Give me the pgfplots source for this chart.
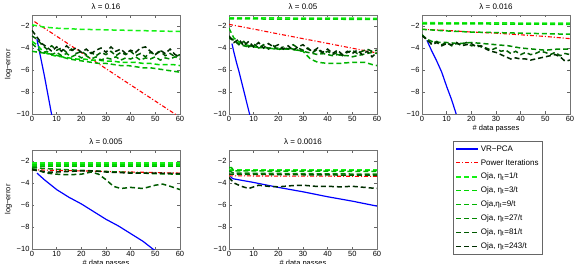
\documentclass[border=0pt]{standalone}
\usepackage{pgfplots}
\pgfplotsset{compat=1.18}
\usepackage{fontspec}
\setmainfont{Liberation Sans}
\definecolor{vr}{RGB}{0,0,255}
\definecolor{pw}{RGB}{255,0,0}
\definecolor{oa}{RGB}{20,240,20}
\definecolor{ob}{RGB}{0,215,0}
\definecolor{oc}{RGB}{0,180,0}
\definecolor{od}{RGB}{0,135,0}
\definecolor{oe}{RGB}{0,90,0}
\definecolor{of}{RGB}{0,45,0}
\pgfplotsset{
  panel/.style={
    scale only axis, width=148pt, height=99pt,
    anchor=south west,
    xmin=0, xmax=60, ymin=-10, ymax=-1,
    xtick={0,10,20,30,40,50,60},
    xticklabels={0,10,20,30,40,50,60},
    ytick={-10,-8,-6,-4,-2},
    yticklabels={−10,−8,−6,−4,−2},
    tick align=inside,
    major tick length=2.5pt,
    tick style={black!60, line width=0.4pt},
    axis line style={black!55, line width=0.5pt},
    ticklabel style={font=\fontsize{7.5}{8}\selectfont},
    xticklabel style={yshift=1pt},
    yticklabel style={xshift=1pt},
    label style={font=\fontsize{7.5}{8}\selectfont},
    ylabel style={yshift=-2pt},
    title style={font=\fontsize{8}{9}\selectfont, yshift=-4pt},
    clip=true,
  },
  vrs/.style={color=vr, line width=1.2pt, solid},
  pws/.style={color=pw, line width=1.1pt, dash pattern=on 4pt off 2pt on 1pt off 2pt},
  oj/.style={color=#1, line width=1.5pt, dash pattern=on 5pt off 3pt},
}
\begin{document}
\begin{tikzpicture}
\useasboundingbox (0,0) rectangle (579pt,263pt);
\clip (0,0) rectangle (579pt,263pt);

% Panel 1
\begin{axis}[panel, at={(32pt,149pt)}, title={λ = 0.16}, ylabel={log−error}]
\addplot[vrs] coordinates {(2,-3.2)(3,-4.3)(4,-5.4)(5,-6.5)(6,-7.7)(7,-8.9)(8,-10.1)(9,-11.3)};
\addplot[pws] coordinates {(1,-1.6)(10,-2.93)(20,-4.41)(30,-5.88)(40,-7.36)(50,-8.83)(60,-10.3)};
\addplot[oj=oa] coordinates {(0,-1.9)(5,-2.1)(10,-2.2)(20,-2.3)(30,-2.35)(40,-2.4)(50,-2.45)(60,-2.5)};
\addplot[oj=ob] coordinates {(0,-3.4)(2,-3.7)(4,-4.2)(6,-4.5)(9,-4.7)(12,-4.8)(15,-4.9)(18,-5.0)(21,-5.0)(24,-5.1)(27,-5.1)(30,-5.2)(33,-5.2)(36,-5.3)(39,-5.3)(42,-5.3)(45,-5.4)(48,-5.4)(51,-5.5)(54,-5.5)(57,-5.5)(60,-5.6)};
\addplot[oj=oc] coordinates {(0,-4.3)(3,-4.4)(6,-4.5)(9,-4.6)(12,-4.8)(15,-5.0)(18,-5.1)(21,-5.2)(24,-5.3)(27,-5.4)(30,-5.4)(33,-5.5)(36,-5.6)(39,-5.6)(42,-5.7)(45,-5.8)(48,-5.8)(51,-5.9)(54,-6.0)(57,-6.1)(60,-6.2)};
\addplot[oj=od] coordinates {(0,-3.6)(2,-4.0)(4,-4.5)(6,-4.3)(8,-4.6)(10,-4.4)(12,-4.7)(14,-4.5)(16,-4.8)(18,-4.6)(20,-4.9)(22,-4.7)(24,-5.0)(26,-4.8)(28,-5.1)(30,-4.9)(32,-5.0)(34,-4.8)(36,-5.1)(38,-4.9)(40,-5.0)(42,-4.8)(44,-5.1)(46,-4.9)(48,-5.0)(50,-4.8)(52,-5.1)(54,-4.9)(56,-5.0)(58,-4.8)(60,-5.0)};
\addplot[oj=oe] coordinates {(0,-2.9)(2,-3.2)(4,-3.7)(6,-4.1)(8,-3.8)(10,-4.2)(12,-4.0)(14,-4.4)(16,-4.1)(18,-4.5)(20,-4.3)(22,-4.6)(24,-4.4)(26,-4.7)(28,-4.4)(30,-4.6)(32,-4.3)(34,-4.7)(36,-4.4)(38,-4.6)(40,-4.3)(42,-4.7)(44,-4.5)(46,-4.8)(48,-4.4)(50,-4.6)(52,-4.3)(54,-4.7)(56,-4.5)(58,-4.8)(60,-4.6)};
\addplot[oj=of] coordinates {(0,-2.4)(2,-3.0)(4,-3.6)(6,-3.9)(8,-4.3)(10,-3.9)(12,-4.3)(14,-3.8)(16,-4.2)(18,-4.0)(20,-4.4)(22,-4.1)(24,-4.5)(26,-4.2)(28,-4.0)(30,-4.4)(32,-3.9)(34,-4.3)(36,-4.1)(38,-4.5)(40,-4.2)(42,-4.4)(44,-4.0)(46,-3.9)(48,-4.3)(50,-4.6)(52,-4.2)(54,-4.5)(56,-4.1)(58,-4.6)(60,-4.8)};
\end{axis}

% Panel 2
\begin{axis}[panel, at={(229pt,149pt)}, title={λ = 0.05}]
\addplot[vrs] coordinates {(1.2,-3.6)(2,-4.4)(3,-5.3)(4,-6.1)(5,-7.0)(6,-7.9)(7,-8.8)(8,-9.7)(9,-10.6)};
\addplot[pws] coordinates {(0,-1.85)(10,-2.28)(20,-2.72)(30,-3.15)(40,-3.58)(50,-4.02)(60,-4.45)};
\addplot[oj=oa] coordinates {(0,-1.25)(20,-1.27)(40,-1.28)(60,-1.3)};
\addplot[oj=ob] coordinates {(0,-1.35)(20,-1.37)(40,-1.38)(60,-1.4)};
\addplot[oj=oc] coordinates {(0,-2.2)(2,-3.1)(5,-3.6)(10,-3.9)(15,-4.0)(20,-4.1)(25,-4.1)(30,-4.3)(33,-5.0)(36,-5.3)(40,-5.4)(45,-5.4)(50,-5.3)(55,-5.3)(58,-5.5)(60,-5.6)};
\addplot[oj=od] coordinates {(0,-3.0)(2,-3.3)(4,-3.6)(6,-3.8)(8,-3.9)(10,-3.8)(12,-4.0)(14,-3.9)(16,-4.0)(18,-4.1)(20,-4.0)(22,-4.1)(24,-4.0)(26,-4.1)(28,-4.2)(30,-4.3)(32,-4.4)(34,-4.5)(36,-4.6)(38,-4.5)(40,-4.6)(42,-4.7)(44,-4.6)(46,-4.7)(48,-4.7)(50,-4.8)(52,-4.7)(54,-4.6)(56,-4.5)(58,-4.4)(60,-4.5)};
\addplot[oj=oe] coordinates {(0,-3.1)(2,-3.3)(4,-3.7)(6,-3.4)(8,-3.9)(10,-3.6)(12,-4.0)(14,-3.7)(16,-4.1)(18,-3.8)(20,-4.2)(22,-3.9)(24,-4.1)(26,-3.7)(28,-4.0)(30,-4.2)(32,-4.0)(34,-4.4)(36,-4.1)(38,-4.5)(40,-4.3)(42,-4.6)(44,-4.4)(46,-4.7)(48,-4.4)(50,-4.2)(52,-4.5)(54,-4.3)(56,-4.1)(58,-4.3)(60,-4.2)};
\addplot[oj=of] coordinates {(0,-2.9)(2,-3.5)(4,-3.2)(6,-3.8)(8,-3.4)(10,-3.9)(12,-3.5)(14,-4.0)(16,-3.6)(18,-3.9)(20,-3.7)(22,-4.1)(24,-3.8)(26,-4.2)(28,-3.9)(30,-3.7)(32,-4.1)(34,-4.3)(36,-4.0)(38,-4.4)(40,-4.1)(42,-4.5)(44,-4.2)(46,-4.6)(48,-4.3)(50,-4.5)(52,-4.2)(54,-4.6)(56,-4.3)(58,-4.8)(60,-4.4)};
\end{axis}

% Panel 3
\begin{axis}[panel, at={(422pt,149pt)}, title={λ = 0.016}, xlabel={\# data passes}, xlabel style={yshift=4pt}]
\addplot[vrs] coordinates {(2,-3.3)(4,-4.3)(6,-5.2)(8,-6.2)(10,-7.5)(12,-8.7)(14,-10.1)(15,-10.7)};
\addplot[pws] coordinates {(0,-2.3)(10,-2.4)(20,-2.55)(30,-2.65)(40,-2.8)(50,-2.95)(60,-3.15)};
\addplot[oj=oa] coordinates {(0,-1.7)(30,-1.72)(60,-1.75)};
\addplot[oj=ob] coordinates {(0,-1.8)(30,-1.82)(60,-1.85)};
\addplot[oj=oc] coordinates {(0,-2.3)(10,-2.45)(20,-2.55)(30,-2.6)(40,-2.65)(50,-2.7)(60,-2.75)};
\addplot[oj=od] coordinates {(0,-2.8)(2,-3.2)(5,-3.5)(10,-3.5)(15,-3.6)(20,-3.5)(25,-3.6)(30,-3.7)(35,-3.8)(40,-4.0)(45,-4.1)(50,-4.2)(55,-4.1)(60,-4.1)};
\addplot[oj=oe] coordinates {(0,-2.8)(2,-3.3)(4,-3.6)(6,-3.4)(8,-3.7)(10,-3.5)(12,-3.8)(14,-3.6)(16,-3.7)(18,-3.5)(20,-3.8)(22,-3.7)(24,-3.9)(26,-4.0)(28,-4.2)(30,-4.0)(32,-4.3)(34,-4.2)(36,-4.5)(38,-4.3)(40,-4.6)(42,-4.4)(44,-4.6)(46,-4.5)(48,-4.3)(50,-4.4)(52,-4.6)(54,-4.4)(56,-4.7)(58,-4.5)(60,-4.6)};
\addplot[oj=of] coordinates {(0,-2.9)(2,-3.2)(4,-3.7)(6,-3.5)(8,-3.8)(10,-3.6)(12,-3.7)(14,-3.5)(16,-3.8)(18,-3.7)(20,-3.6)(22,-3.9)(24,-3.8)(26,-4.1)(28,-4.3)(30,-4.4)(32,-4.6)(34,-4.8)(36,-5.0)(38,-4.9)(40,-5.0)(42,-5.0)(44,-5.1)(46,-5.0)(48,-4.9)(50,-4.8)(52,-4.7)(54,-4.6)(56,-4.8)(58,-5.2)(60,-5.1)};
\end{axis}

% Panel 4
\begin{axis}[panel, at={(32pt,14pt)}, title={λ = 0.005}, ylabel={log−error}, xlabel={\# data passes}, xlabel style={yshift=4pt}]
\addplot[vrs] coordinates {(2,-3.1)(5,-3.7)(10,-4.6)(15,-5.3)(20,-5.9)(25,-6.6)(30,-7.3)(35,-7.9)(40,-8.6)(45,-9.3)(49,-10.0)(51,-10.3)};
\addplot[pws] coordinates {(0,-2.8)(10,-2.85)(20,-2.9)(30,-2.95)(40,-3.0)(50,-3.05)(60,-3.1)};
\addplot[oj=oa] coordinates {(0,-2.2)(30,-2.2)(60,-2.2)};
\addplot[oj=ob] coordinates {(0,-2.35)(30,-2.35)(60,-2.35)};
\addplot[oj=oc] coordinates {(0,-2.5)(30,-2.5)(60,-2.5)};
\addplot[oj=od] coordinates {(0,-2.6)(10,-2.75)(20,-2.85)(30,-2.95)(40,-3.05)(50,-3.15)(60,-3.2)};
\addplot[oj=oe] coordinates {(0,-2.7)(3,-2.9)(6,-3.1)(10,-3.2)(15,-3.25)(20,-3.2)(24,-3.0)(27,-3.2)(30,-3.7)(33,-4.3)(36,-4.5)(40,-4.4)(45,-4.5)(50,-4.2)(53,-4.1)(56,-4.3)(60,-4.6)};
\addplot[oj=of] coordinates {(0,-2.8)(3,-2.9)(6,-3.0)(10,-3.0)(15,-2.95)(20,-2.9)(25,-2.9)(30,-3.0)(40,-3.1)(50,-3.1)(60,-3.15)};
\end{axis}

% Panel 5
\begin{axis}[panel, at={(229pt,14pt)}, title={λ = 0.0016}, xlabel={\# data passes}, xlabel style={yshift=4pt},
  legend style={at={(1.514,1.093)}, anchor=north west, draw=black!60, line width=0.5pt,
    font=\fontsize{8}{9}\selectfont, cells={anchor=west}, row sep=2.6pt,
    inner xsep=2pt, inner ysep=2.5pt},
  legend image code/.code={\draw[#1] (0pt,0pt) -- (22pt,0pt);}]
\addplot[vrs] coordinates {(0.5,-3.4)(1.5,-3.6)(2.5,-3.65)(10,-3.95)(20,-4.4)(30,-4.8)(40,-5.25)(50,-5.65)(60,-6.1)};
\addlegendentry{VR−PCA}
\addplot[pws] coordinates {(0,-3.35)(20,-3.37)(40,-3.38)(60,-3.4)};
\addlegendentry{Power Iterations}
\addplot[oj=oa] coordinates {(0,-2.75)(30,-2.75)(60,-2.75)};
\addlegendentry{Oja, η\textsubscript{t}=1/t}
\addplot[oj=ob] coordinates {(0,-2.85)(30,-2.85)(60,-2.85)};
\addlegendentry{Oja, η\textsubscript{t}=3/t}
\addplot[oj=oc] coordinates {(0,-2.6)(1,-2.6)(2,-2.9)(30,-2.92)(60,-2.95)};
\addlegendentry{Oja,η\textsubscript{t}=9/t}
\addplot[oj=od] coordinates {(0,-2.9)(2,-3.1)(30,-3.15)(60,-3.2)};
\addlegendentry{Oja, η\textsubscript{t}=27/t}
\addplot[oj=oe] coordinates {(0,-3.2)(30,-3.25)(60,-3.3)};
\addlegendentry{Oja, η\textsubscript{t}=81/t}
\addplot[oj=of] coordinates {(0,-3.5)(2,-4.0)(5,-4.3)(8,-4.5)(12,-4.2)(16,-4.3)(20,-4.35)(25,-4.25)(30,-4.2)(35,-4.3)(40,-4.3)(45,-4.35)(50,-4.3)(55,-4.4)(60,-4.5)};
\addlegendentry{Oja, η\textsubscript{t}=243/t}
\end{axis}
\end{tikzpicture}
\end{document}
